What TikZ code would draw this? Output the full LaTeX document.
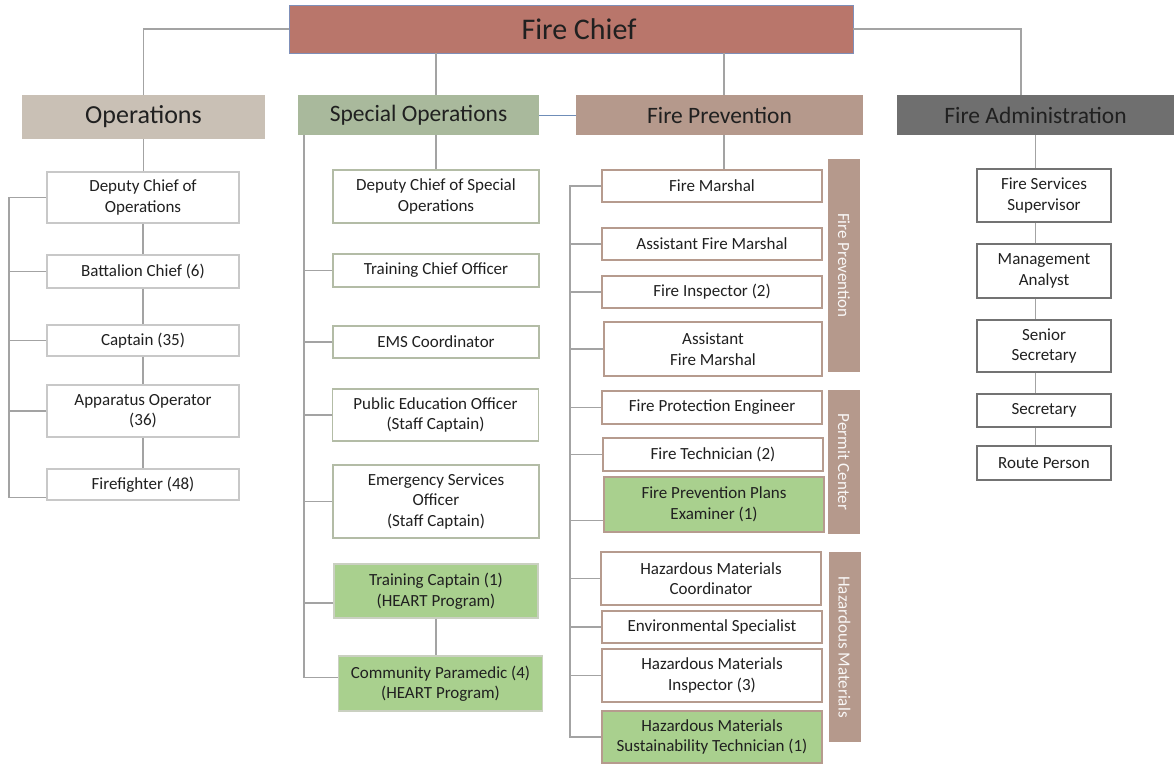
\documentclass[tikz,border=0pt]{standalone}
\usepackage{fontspec}
\setmainfont{Carlito}
\definecolor{chief}{HTML}{B9766B}
\definecolor{chiefbd}{HTML}{7F8FB8}
\definecolor{opsc}{HTML}{C9C0B5}
\definecolor{soc}{HTML}{A9B99C}
\definecolor{fpc}{HTML}{B5998C}
\definecolor{fac}{HTML}{6F6F6F}
\definecolor{grn}{HTML}{A9D08E}
\definecolor{txt}{HTML}{202020}
\definecolor{conn}{HTML}{A3A3A3}
\definecolor{opsbd}{HTML}{C8C8C8}
\definecolor{sobd}{HTML}{B3BCA6}
\definecolor{fpbd}{HTML}{B69B8E}
\definecolor{fabd}{HTML}{737373}
\definecolor{blueln}{HTML}{6F8DB8}
\tikzset{
  base/.style={rectangle, inner sep=2pt, align=center, text=txt, font=\fontsize{17}{20.5}\selectfont, line width=1.4pt},
  opsbox/.style={base, draw=opsbd, fill=white, minimum width=192pt},
  sobox/.style={base, draw=sobd, fill=white, minimum width=206pt},
  sogreen/.style={base, draw=sobd!70, fill=grn, minimum width=204pt},
  fpbox/.style={base, draw=fpbd, fill=white, minimum width=220pt},
  fpgreen/.style={base, draw=fpbd, fill=grn, minimum width=220pt},
  fabox/.style={base, draw=fabd, fill=white, minimum width=134pt},
  head/.style={rectangle, inner sep=0pt, text=txt, font=\fontsize{23.5}{27}\selectfont},
  side/.style={rectangle, fill=fpc, inner sep=0pt, minimum width=32pt, text=white!92!fpc, font=\fontsize{17}{19}\selectfont},
  cn/.style={draw=conn, line width=1.6pt},
}
\begin{document}
\begin{tikzpicture}[x=1pt,y=-1pt]
\useasboundingbox (0,0) rectangle (1174,765);
\fill[white] (0,0) rectangle (1174,765);
% top level
\node[rectangle, fill=chief, draw=chiefbd, line width=0.8pt, minimum width=564pt, minimum height=48pt, text=txt, font=\fontsize{30}{34}\selectfont] (fc) at (571,29) {\hspace*{16pt}Fire Chief};
\node[head, fill=opsc, minimum width=243pt, minimum height=44pt, font=\fontsize{26}{30}\selectfont] (ops) at (143.5,117) {Operations};
\node[head, fill=soc, minimum width=241pt, minimum height=40pt] (so) at (418.5,115) {Special Operations};
\node[head, fill=fpc, minimum width=287pt, minimum height=40pt] (fp) at (719.5,115) {Fire Prevention};
\node[head, fill=fac, minimum width=277pt, minimum height=40pt] (fa) at (1035.5,115) {Fire Administration};
% Operations column
\node[opsbox, minimum height=51pt] (dco) at (143,197.5) {Deputy Chief of\\Operations};
\node[opsbox, minimum height=33pt] (bc) at (143,271.5) {Battalion Chief (6)};
\node[opsbox, minimum height=31pt] (cap) at (143,340.5) {Captain (35)};
\node[opsbox, minimum height=52pt] (ao) at (143,411) {Apparatus Operator\\(36)};
\node[opsbox, minimum height=31pt] (ff) at (143,484.5) {Firefighter (48)};
% Special operations column
\node[sobox, minimum height=53pt] (dcso) at (436,196.5) {Deputy Chief of Special\\Operations};
\node[sobox, minimum height=33pt] (tco) at (436,270.5) {Training Chief Officer};
\node[sobox, minimum height=32pt] (ems) at (436,342) {EMS Coordinator};
\node[sobox, minimum height=52pt] (peo) at (435.5,415) {Public Education Officer\\(Staff Captain)};
\node[sobox, minimum height=73pt] (eso) at (436,501.5) {Emergency Services\\Officer\\(Staff Captain)};
\node[sogreen, minimum height=54pt] (tc) at (436,591) {Training Captain (1)\\(HEART Program)};
\node[sogreen, minimum height=55pt] (cp) at (440.5,683.5) {Community Paramedic (4)\\(HEART Program)};
% Fire prevention column
\node[fpbox, minimum height=32pt] (fm) at (712,186) {Fire Marshal};
\node[fpbox, minimum height=32pt] (afm) at (712,244) {Assistant Fire Marshal};
\node[fpbox, minimum height=32pt] (fi) at (712,292) {Fire Inspector (2)};
\node[fpbox, minimum width=218pt, minimum height=54pt] (afm2) at (713,349) {Assistant\\Fire Marshal};
\node[fpbox, minimum height=33pt] (fpe) at (712,407.5) {Fire Protection Engineer};
\node[fpbox, minimum height=33pt] (ft) at (713,454.5) {Fire Technician (2)};
\node[fpgreen, minimum height=55pt] (fppe) at (714,504.5) {Fire Prevention Plans\\Examiner (1)};
\node[fpbox, minimum height=53pt] (hmc) at (711,578.5) {Hazardous Materials\\Coordinator};
\node[fpbox, minimum height=32pt] (es) at (712,627) {Environmental Specialist};
\node[fpbox, minimum height=53pt] (hmi) at (712,675.5) {Hazardous Materials\\Inspector (3)};
\node[fpgreen, minimum height=52pt] (hmst) at (712,737) {Hazardous Materials\\Sustainability Technician (1)};
% side labels
\node[side, minimum height=213pt] (sfp) at (844,265.5) {\rotatebox{-90}{Fire Prevention}};
\node[side, minimum height=144pt] (spc) at (844,462) {\rotatebox{-90}{Permit Center}};
\node[side, minimum height=190pt] (shm) at (844.5,647) {\rotatebox{-90}{Hazardous Materials}};
% Fire administration column
\node[fabox, minimum height=53pt] (fss) at (1044,195.5) {Fire Services\\Supervisor};
\node[fabox, minimum height=54pt] (ma) at (1044,271) {Management\\Analyst};
\node[fabox, minimum height=52pt] (ss) at (1044,346) {Senior\\Secretary};
\node[fabox, minimum height=33pt] (sec) at (1044,410.5) {Secretary};
\node[fabox, minimum height=34pt] (rp) at (1044,463) {Route Person};
% bar coordinates
\coordinate (opsbar) at (9,0);
\coordinate (sobar) at (304,0);
\coordinate (fpbar) at (570,0);
\coordinate (fpx) at (724,0);
\coordinate (fax) at (1021,0);
% connectors from the chief
\draw[cn] (fc.west) -| (ops.north);
\draw[cn] (fc.south -| dcso.north) -- (so.north -| dcso.north);
\draw[cn] (fc.south -| fpx) -- (fp.north -| fpx);
\draw[cn] (fc.east) -| (fax |- fa.north);
\draw[draw=blueln, line width=0.9pt] (so.east) -- (fp.west);
% operations
\draw[cn] (ops.south) -- (ops.south |- dco.north);
\draw[cn] (dco) -- (bc);
\draw[cn] (bc) -- (cap);
\draw[cn] (cap) -- (ao);
\draw[cn] (ao) -- (ff);
\draw[cn] (dco.west) -- (dco.west -| opsbar) -- ([yshift=-13pt]ff.west -| opsbar) -- ([yshift=-13pt]ff.west);
\foreach \n in {bc,cap,ao} \draw[cn] (\n.west) -- (\n.west -| opsbar);
% special operations
\draw[cn] (so.south -| dcso.north) -- (dcso.north);
\draw[cn] (tc.south) -- (tc.south |- cp.north);
\draw[cn] (so.south -| sobar) -- ([yshift=6pt]cp.west -| sobar) -- ([yshift=6pt]cp.west);
\foreach \n in {tco,ems,peo,eso} \draw[cn] (\n.west) -- (\n.west -| sobar);
\draw[cn] ([yshift=-12pt]tc.west) -- ([yshift=-12pt]tc.west -| sobar);
% fire prevention
\draw[cn] (fp.south -| fpx) -- (fm.north -| fpx);
\draw[cn] (fm.west) -- (fm.west -| fpbar) -- (hmst.west -| fpbar) -- (hmst.west);
\foreach \n in {afm,fi,afm2,fpe,ft,hmc,es,hmi} \draw[cn] (\n.west) -- (\n.west -| fpbar);
\draw[cn] ([yshift=-16pt]fppe.west) -- ([yshift=-16pt]fppe.west -| fpbar);
% fire administration
\draw[cn] (fa.south) -- (fa.south |- fss.north);
\draw[cn] (fa.south |- fss.south) -- (fa.south |- ma.north);
\draw[cn] (fa.south |- ma.south) -- (fa.south |- ss.north);
\draw[cn] (fa.south |- ss.south) -- (fa.south |- sec.north);
\draw[cn] (fa.south |- sec.south) -- (fa.south |- rp.north);
\end{tikzpicture}
\end{document}
